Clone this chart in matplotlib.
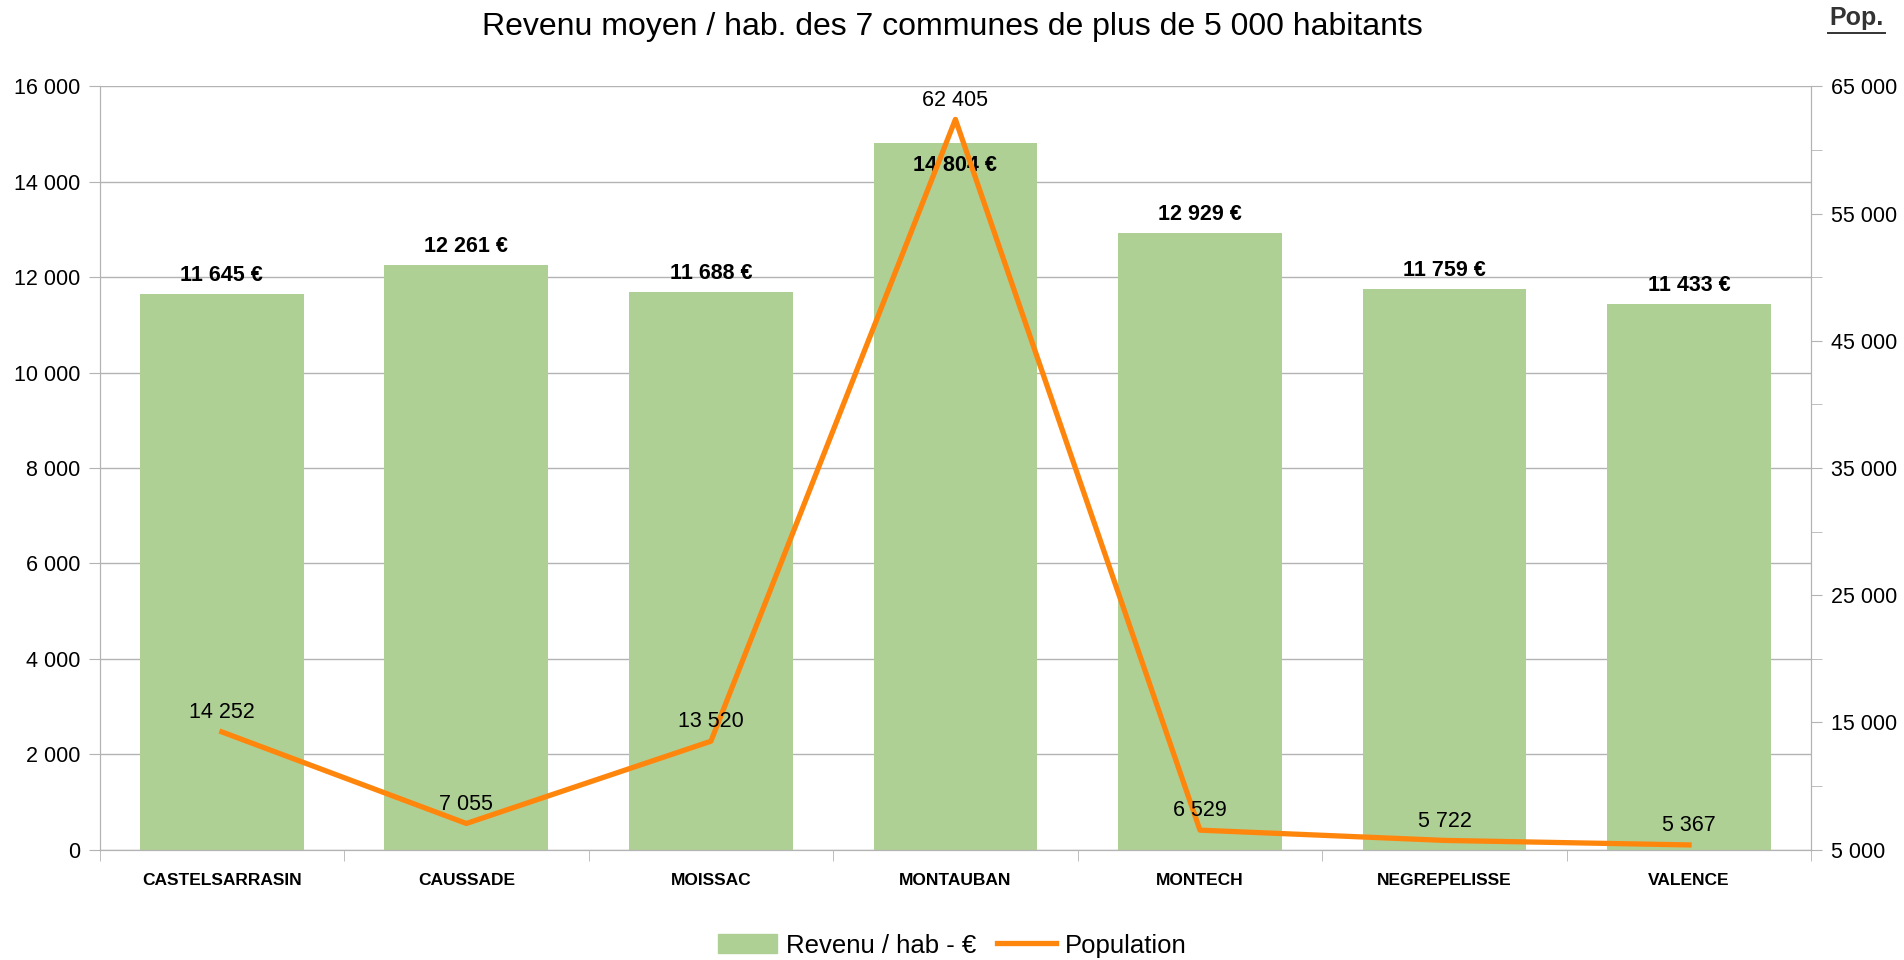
import matplotlib
matplotlib.use("Agg")
import matplotlib.pyplot as plt
from matplotlib.ticker import FuncFormatter, MultipleLocator, FixedLocator
from matplotlib.patches import Patch
from matplotlib.lines import Line2D

plt.rcParams["font.family"] = ["Liberation Sans", "DejaVu Sans"]

communes = ["CASTELSARRASIN", "CAUSSADE", "MOISSAC", "MONTAUBAN",
            "MONTECH", "NEGREPELISSE", "VALENCE"]
revenu = [11645, 12261, 11688, 14804, 12929, 11759, 11433]
population = [14252, 7055, 13520, 62405, 6529, 5722, 5367]

C_BAR = "#afd095"
C_LINE = "#ff860d"
C_GRID = "#b3b3b3"


def fmt_num(v):
    return f"{int(round(v)):,}".replace(",", " ")


fig = plt.figure(figsize=(19.04, 9.6), dpi=100)
ax = fig.add_axes([0.0523, 0.115, 0.899, 0.795])
ax2 = ax.twinx()

x = list(range(len(communes)))
ax.bar(x, revenu, width=0.67, color=C_BAR, zorder=2)
ax.set_xlim(-0.5, len(communes) - 0.5)
ax.set_ylim(0, 16000)
ax.yaxis.set_major_locator(MultipleLocator(2000))
ax.yaxis.set_major_formatter(FuncFormatter(lambda v, p: fmt_num(v)))
ax.grid(axis="y", color=C_GRID, lw=1.0, zorder=0)
ax.set_axisbelow(True)

ax.set_xticks(x)
ax.set_xticklabels(communes, fontsize=12.5, fontweight="bold")
ax.set_xticks([i - 0.5 for i in range(len(communes) + 1)], minor=True)
ax.tick_params(axis="x", which="major", length=0, pad=17)
ax.tick_params(axis="x", which="minor", length=8, color=C_GRID)
ax.tick_params(axis="y", length=8, color=C_GRID, labelsize=15.5, pad=6)

ax.spines["top"].set_visible(False)
ax2.spines["top"].set_visible(False)
for a in (ax, ax2):
    for sp in ["left", "right", "bottom"]:
        a.spines[sp].set_color(C_GRID)

# bar value labels (Montauban's sits inside the bar, under the line label)
for i, v in enumerate(revenu):
    if communes[i] == "MONTAUBAN":
        ax.text(i, v - 250, f"{fmt_num(v)} €", ha="center", va="top",
                fontsize=15.5, fontweight="bold", zorder=5)
    else:
        ax.text(i, v + 170, f"{fmt_num(v)} €", ha="center", va="bottom",
                fontsize=15.5, fontweight="bold", zorder=5)

# population line on secondary axis
ax2.plot(x, population, color=C_LINE, lw=3.8, zorder=4)
ax2.set_ylim(5000, 65000)
ax2.yaxis.set_major_locator(FixedLocator(range(5000, 65001, 10000)))
ax2.yaxis.set_minor_locator(FixedLocator(range(10000, 60001, 10000)))
ax2.yaxis.set_major_formatter(FuncFormatter(lambda v, p: fmt_num(v)))
ax2.tick_params(axis="y", which="both", length=8, color=C_GRID,
                labelsize=15.5, pad=6)
for i, v in enumerate(population):
    ax2.text(i, v + 700, fmt_num(v), ha="center", va="bottom",
             fontsize=15.5, zorder=5)

fig.text(0.5, 0.972, "Revenu moyen / hab. des 7 communes de plus de 5 000 habitants",
         ha="center", va="center", fontsize=23)
fig.text(0.975, 0.981, "Pop.", ha="center", va="center", fontsize=18,
         fontweight="bold", color="#333333")
fig.add_artist(Line2D([0.960, 0.990], [0.966, 0.966], color="#333333", lw=1.4))

handles = [Patch(color=C_BAR), Line2D([], [], color=C_LINE, lw=3.8)]
fig.legend(handles, ["Revenu / hab - €", "Population"], loc="center",
           bbox_to_anchor=(0.5, 0.015), ncol=2, frameon=False, fontsize=18.5,
           handlelength=2.3, handleheight=0.8, columnspacing=0.8,
           handletextpad=0.35)

fig.savefig("out.png", dpi=100)
